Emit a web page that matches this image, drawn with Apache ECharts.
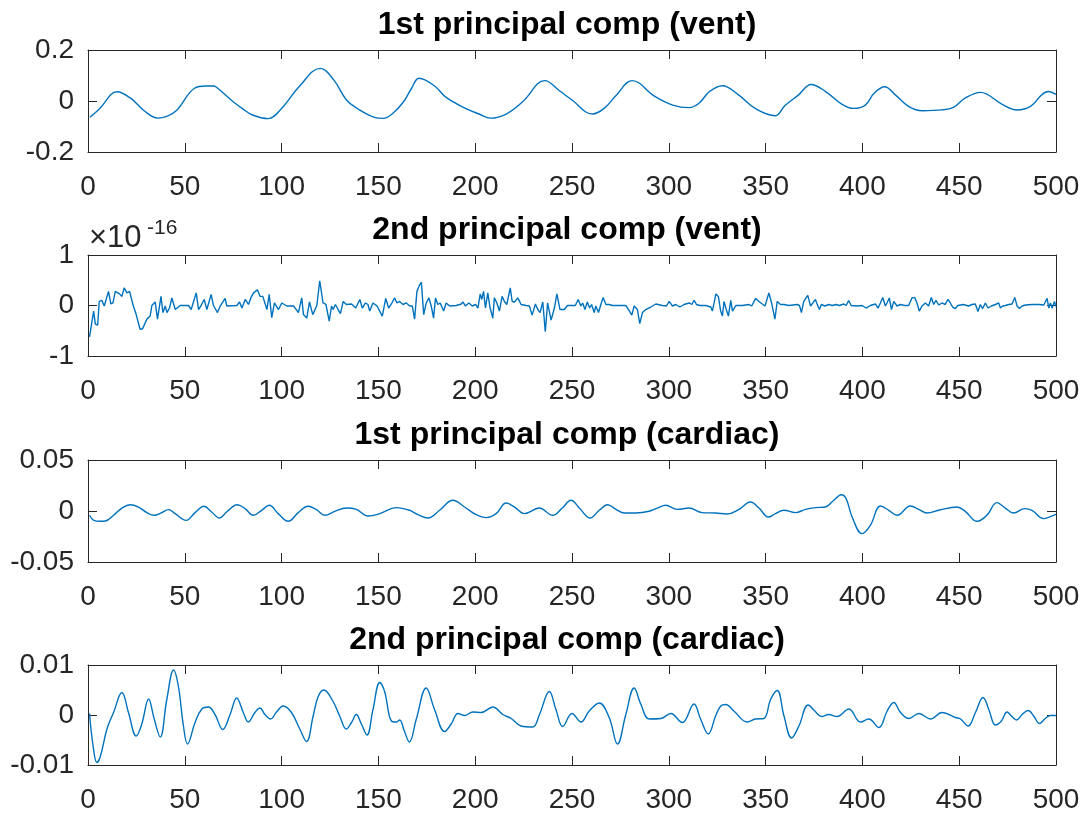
<!DOCTYPE html>
<html>
<head>
<meta charset="utf-8">
<title>Principal components</title>
<script src="https://cdn.jsdelivr.net/npm/echarts@6/dist/echarts.min.js"></script>
<style>
  html, body { margin: 0; padding: 0; background: #ffffff; }
  #chart { width: 1083px; height: 814px; }
</style>
</head>
<body>
<div id="chart"></div>
<script>
// ---- data: [sample index, value] ----
const xTicks = [0, 50, 100, 150, 200, 250, 300, 350, 400, 450, 500];

const titles = [
  '1st principal comp (vent)',
  '2nd principal comp (vent)',
  '1st principal comp (cardiac)',
  '2nd principal comp (cardiac)'
];

const yRanges = [
  [-0.2, 0.2, 0.2],
  [-1, 1, 1],          // in units of 1e-16
  [-0.05, 0.05, 0.05],
  [-0.01, 0.01, 0.01]
];

const ventPc1 = [[1,-0.064],[6,-0.03],[15,0.036],[22,0.011],[29,-0.038],[36,-0.067],[41,-0.059],[46,-0.035],
  [55,0.050],[61,0.059],[65,0.059],[67,0.05],[75,-0.003],[80,-0.031],[85,-0.055],[93,-0.069],[100,-0.029],
  [109,0.056],[120,0.128],[127,0.082],[133.5,0.004],[139,-0.029],[148,-0.064],[152.5,-0.068],[157.5,-0.048],
  [163,-0.003],[167,0.048],[171,0.089],[179,0.059],[185,0.014],[195,-0.029],[202,-0.051],[208,-0.067],[216,-0.051],
  [224.5,-0.003],[236,0.080],[243.5,0.040],[250,0.004],[260.6,-0.051],[266.6,-0.029],[273,0.024],[281,0.080],
  [293,0.017],[302,-0.016],[310.5,-0.026],[315.6,-0.009],[321,0.037],[327.6,0.060],[336,0.024],[345,-0.031],
  [355,-0.058],[360,-0.018],[367,0.024],[373.5,0.065],[381,0.037],[389.5,-0.013],[395.5,-0.029],[401.5,-0.016],
  [406,0.030],[411.5,0.056],[417,0.024],[424,-0.022],[431,-0.038],[441,-0.035],[447,-0.025],[453,0.011],
  [461,0.034],[472,-0.012],[480,-0.035],[487,-0.020],[492.6,0.024],[496,0.037],[500,0.026]];

// second vent component, values in units of 1e-16
const ventPc2 = [[0.8,-0.62],[2.9,-0.11],[3.8,-0.37],[5.0,-0.39],[5.8,0.08],[7.2,0.10],[8.4,-0.01],[10.6,0.28],
  [11.8,0.03],[12.9,0.05],[14.1,0.28],[16.3,0.23],[17.5,0.18],[18.7,0.35],[20.1,0.25],[21.5,0.28],[23.2,0.02],
  [24.9,-0.18],[26.9,-0.47],[28.2,-0.46],[30.4,-0.27],[32.1,-0.21],[33.0,0],[34.7,0.07],[35.9,-0.27],[37.7,0.18],
  [38.7,-0.14],[39.9,-0.01],[40.8,-0.14],[42.1,-0.05],[43.3,0.15],[45.1,-0.08],[47.6,0],[51.9,0],[53.3,-0.08],
  [55.9,0.25],[57.1,-0.08],[58.3,-0.01],[60.0,0.12],[61.4,-0.08],[63.6,0.22],[64.8,0],[66.9,-0.14],[68.3,-0.01],
  [70.8,0.14],[71.7,-0.01],[76.9,0],[78.3,0.07],[79.5,-0.05],[81.2,0.12],[82.9,0.02],[84.1,0.15],[85.5,0.25],
  [87.5,0.31],[88.9,0.18],[90.3,0.18],[92.4,-0.08],[93.6,0.22],[94.9,-0.24],[96.3,0.05],[98.4,-0.08],[100.1,0.05],
  [102.7,-0.01],[106.2,-0.01],[108.7,-0.14],[110.4,0.15],[111.3,-0.18],[113.0,-0.25],[114.4,0.07],[116.1,-0.18],
  [118.2,0],[119.7,0.49],[120.6,0.48],[121.4,0.05],[122.9,0.02],[124.6,-0.31],[125.8,-0.01],[126.6,-0.08],
  [127.8,0.02],[129.2,-0.08],[130.4,-0.16],[131.8,0.08],[133.5,0.02],[136.1,0.03],[138.3,-0.05],[140.4,0.12],
  [141.7,-0.05],[143.3,0.05],[144.6,0.02],[145.5,-0.11],[147.2,0.05],[149.3,-0.01],[152.0,-0.21],[153.8,0.14],
  [155.3,-0.05],[156.7,0.03],[158.4,0.15],[159.6,0.05],[161.0,0.08],[162.7,0.02],[164.4,0.05],[166.2,-0.01],
  [167.5,-0.01],[168.7,-0.27],[169.9,0.28],[171.3,0.41],[172.2,0.46],[173.4,-0.18],[174.7,0.05],[176.1,0.15],
  [177.3,-0.01],[178.5,-0.25],[179.5,0.15],[180.7,0.02],[181.9,0.05],[183.7,-0.11],[185.0,0.05],[186.8,-0.01],
  [190.2,0],[192.8,0.03],[193.6,0.07],[195.0,-0.01],[196.7,0.05],[198.5,-0.01],[200.2,0.02],[201.4,-0.05],
  [202.6,0.23],[203.4,0.12],[204.3,0.28],[205.3,-0.05],[206.5,0.25],[207.7,-0.05],[209.1,-0.25],[209.9,0.15],
  [211.2,0.05],[212.5,-0.11],[213.9,0.18],[215.1,0.08],[216.3,0.02],[218.1,0.35],[219.1,0.08],[220.3,0.07],
  [222.0,0.15],[223.7,0.02],[226.3,0],[228.0,-0.01],[229.4,-0.19],[231.1,0.03],[232.3,-0.08],[233.5,-0.14],
  [234.9,0.07],[236.2,-0.52],[237.4,0.05],[239.2,-0.29],[240.9,-0.05],[242.2,0.23],[243.8,-0.08],[246.0,-0.08],
  [247.7,0],[251.7,0],[253.2,0.12],[254.6,-0.01],[255.5,0.05],[256.7,-0.08],[257.9,0.07],[259.1,-0.05],
  [260.1,0.02],[261.5,-0.14],[262.3,-0.01],[263.7,-0.14],[264.9,0.02],[266.1,0.16],[267.5,0.02],[269.2,0.02],
  [270.9,0],[274.3,0],[277.8,0],[279.2,-0.08],[280.9,-0.19],[282.1,-0.01],[283.8,-0.08],[285.0,-0.36],
  [286.4,-0.14],[288.1,-0.08],[290.7,-0.03],[293.3,0.03],[296.7,0],[298.8,-0.01],[300.2,0.08],[301.9,-0.01],
  [303.6,0.02],[305.7,-0.03],[307.9,0.02],[310.5,0.05],[311.9,0.02],[313.1,0.10],[314.3,0.02],[316.0,0],
  [319.1,0],[321.7,-0.03],[322.5,-0.11],[323.4,0.05],[324.3,0.23],[325.6,0.18],[326.8,-0.11],[327.7,-0.21],
  [328.5,0.08],[329.7,-0.08],[330.8,-0.21],[332.0,0.10],[332.9,-0.11],[334.6,0],[338.0,0],[341.5,0.02],
  [342.8,-0.01],[344.9,0.14],[346.6,0.08],[348.3,0.03],[349.7,-0.01],[351.7,0.25],[353.1,0.05],[354.8,-0.27],
  [356.0,0.08],[357.7,0.02],[359.5,0.02],[362.0,0],[366.3,0.02],[367.5,0],[368.5,-0.14],[369.7,0.08],
  [370.6,0.10],[371.8,0.20],[373.2,-0.01],[374.4,0.05],[375.7,0.12],[376.6,0.03],[377.8,-0.08],[378.8,0.02],
  [380.6,-0.01],[382.6,0.02],[384.4,0],[386.4,0.02],[388.1,0],[390.4,0.03],[391.6,0],[392.9,0.10],[394.2,0],
  [397.2,-0.01],[399.8,0],[401.9,-0.05],[404.1,0],[406.7,0.03],[408.1,-0.05],[409.3,0.05],[410.5,0.16],
  [411.9,-0.01],[412.7,0.05],[413.9,0.15],[415.0,-0.08],[416.2,0.08],[417.9,-0.01],[419.6,0.02],[421.8,0],
  [423.9,0],[425.6,0.15],[427.0,0.16],[428.2,0.05],[429.4,-0.11],[430.8,-0.01],[432.5,0.05],[434.2,-0.01],
  [435.6,0.16],[436.8,0.02],[438.0,0.10],[439.4,0.01],[441.1,0.05],[442.8,0.02],[444.2,0.12],[445.4,0.05],
  [446.6,-0.03],[448.0,-0.06],[449.3,0],[452.2,0.02],[454.8,-0.01],[456.6,0.02],[458.3,0.03],[459.7,-0.12],
  [460.9,0.02],[462.1,-0.06],[463.5,0.05],[464.9,-0.05],[466.6,-0.01],[468.7,0.02],[470.4,0.05],[471.3,-0.05],
  [472.5,-0.01],[473.8,0],[475.6,0.02],[477.3,0.03],[478.7,0.16],[479.9,-0.01],[481.1,-0.06],[482.5,-0.01],
  [484.2,0.01],[487.7,0.02],[491.1,0.02],[493.7,0.01],[495.4,0.14],[496.3,-0.05],[497.1,0.05],[498.0,-0.05],
  [499.2,0.08],[500,-0.02]];

const cardiacPc1 = [[0.8,-0.0042],[3,-0.0092],[6.3,-0.0101],[9,-0.0098],[13.2,-0.0042],[17.5,0.0029],[21.8,0.0062],
  [26.1,0.0039],[30.4,-0.0016],[34.2,-0.0042],[38.1,-0.0016],[41.6,0.0013],[45,-0.0026],[50.7,-0.0092],
  [55.3,-0.0016],[59.9,0.0046],[63.9,-0.001],[67.9,-0.0069],[71.6,-0.001],[77.1,0.0062],[81.1,0.0023],
  [85.4,-0.0042],[89.7,0.0007],[93.6,0.0056],[98.3,-0.0026],[103.4,-0.0101],[108.6,-0.0016],[113.7,0.0046],
  [118,0.0013],[122.3,-0.0042],[127.5,-0.0003],[133.5,0.0029],[138.6,0.0016],[144.6,-0.0049],[150.7,-0.0026],
  [159.3,0.0033],[166.1,0.0007],[170.4,-0.0036],[175.6,-0.0069],[181.6,0.0007],[188.5,0.0105],[194.5,0.0039],
  [200.5,-0.0036],[205.7,-0.0065],[210.8,-0.0026],[216,0.0078],[220.3,0.0039],[225.4,-0.0026],[233.1,0.0029],
  [240,-0.0042],[245,0.003],[249.5,0.0105],[253.8,0.0029],[259.3,-0.0069],[264.1,0.0007],[268.4,0.0062],
  [272.7,0.0016],[277,-0.002],[283,-0.002],[289.8,-0.0003],[294.1,0.0029],[298.4,0.0056],[304.4,0.0016],
  [310.4,0.0029],[317.3,-0.0016],[324.2,-0.002],[330.2,-0.0029],[336.2,0.0016],[342.2,0.0088],[346.6,0.0029],
  [351.4,-0.0059],[355.1,-0.0026],[359.4,0.0007],[365.4,-0.0016],[370.6,0.0016],[375.7,0.0033],[380.9,0.0039],
  [384.7,0.0095],[389.2,0.016],[391.6,0.0121],[394.7,-0.0059],[399.8,-0.0222],[404.1,-0.0141],[409.3,0.0049],
  [413.6,0.0007],[417.9,-0.0042],[424.8,0.0049],[429.1,0.0016],[433.4,-0.002],[439.4,0.0007],[448.8,0.0039],
  [453.1,-0.0003],[459.2,-0.0101],[464.3,-0.0042],[469.5,0.0082],[473.8,0.0029],[478.1,-0.002],[483.8,0.0023],
  [487.6,0.0007],[493.6,-0.0075],[498.8,-0.0042],[500,-0.003]];

const cardiacPc2 = [[0.8,0.0003],[2.6,-0.0061],[4.6,-0.0095],[6.3,-0.0084],[9.8,-0.0028],[13.2,0.0005],[17.5,0.0045],
  [20.9,0.0005],[24.9,-0.0042],[27.8,-0.0018],[31.3,0.0032],[34.2,-0.0008],[37.3,-0.0044],[40.7,0.0031],
  [44.2,0.009],[46.7,0.0057],[49.3,-0.0022],[51.4,-0.0058],[55.3,-0.0015],[58.8,0.0012],[62.2,0.0016],
  [65.6,0.0001],[69.6,-0.0029],[73.4,0.0001],[76.8,0.0034],[80.2,0.0005],[82.8,-0.0014],[86.2,0.0005],
  [88.8,0.0014],[91.4,0.0001],[94.3,-0.0008],[97.4,0.0006],[100.8,0.0018],[105.1,0.0005],[109.4,-0.0028],
  [112.9,-0.0053],[116.3,-0.0002],[118.9,0.0037],[121.8,0.005],[126.6,0.0027],[130,-0.0002],[133.5,-0.0028],
  [136.1,-0.0015],[138.6,0.0001],[141.2,-0.0018],[144.1,-0.004],[147.2,0.0011],[150.7,0.0065],[153.2,0.0047],
  [156.7,-0.0012],[159.3,-0.0014],[161,-0.001],[163.3,-0.0031],[166,-0.0054],[169.6,-0.0008],[174.7,0.0054],
  [179,0.0011],[184.2,-0.0033],[187.6,-0.0018],[191.1,0.0003],[194.5,-0.0001],[198.8,0.0006],[203.1,0.0005],
  [209.1,0.0016],[214.3,0.0001],[218.6,-0.0007],[223.7,-0.0022],[229.7,-0.0024],[233.2,0.0001],[238.3,0.0047],
  [241.7,0.0011],[245.2,-0.0023],[250,0.0003],[254.6,-0.0014],[258.9,0.0008],[264.1,0.0024],[269.2,-0.0005],
  [273.5,-0.0058],[277.8,0.0001],[282.1,0.0054],[285.6,0.0021],[289.9,-0.0008],[295.9,-0.0007],[301,0.0003],
  [307,-0.0015],[313,0.0022],[316.4,-0.0008],[320.4,-0.0038],[324.2,-0.0002],[326.8,0.0018],[329.4,0.0021],
  [333.6,0.0008],[340.5,-0.0014],[344.8,-0.0008],[349.1,-0.0007],[352.6,0.0031],[356,0.0049],[359.5,-0.0002],
  [363.4,-0.0046],[367.2,-0.0022],[372,0.002],[375.4,0.0008],[378.9,-0.0003],[382.6,0.0001],[386.9,-0.0003],
  [393,0.0012],[399,-0.0014],[403.3,-0.0008],[408.5,-0.0025],[412.8,0.0008],[416.2,0.0025],[419.7,0.0005],
  [424,-0.0007],[429.2,0.0003],[435.2,-0.0008],[441.2,0.0005],[448.1,-0.0005],[450.7,-0.0008],[454.6,-0.0022],
  [458.4,0.0005],[462.3,0.0035],[465.3,0.0011],[468.7,-0.002],[471.8,-0.0012],[474.7,0.0006],[477,-0.0002],
  [479.6,-0.001],[482.5,0.0001],[485.6,0.0009],[488.5,-0.0002],[491.4,-0.0017],[494.5,-0.0007],[497.1,-0.0001],
  [500,-0.0001]];

// ---- layout ----
const FONT = '"Liberation Sans", Arial, Helvetica, sans-serif';
const AX = '#262626';
const LINE = '#0072BD';
const panels = [
  { top: 50,  height: 102, data: ventPc1,    smooth: 0.4 },
  { top: 255, height: 101, data: ventPc2,    smooth: false },
  { top: 460, height: 102, data: cardiacPc1, smooth: 0.4 },
  { top: 665, height: 102, data: cardiacPc2, smooth: 0.4 }
];
const LEFT = 88, RIGHT = 27;

const grid = [], xAxis = [], yAxis = [], series = [], graphic = [];
const axLine = { show: true, onZero: false, lineStyle: { color: AX, width: 1 } };
const tick = { show: true, inside: true, length: 9, lineStyle: { color: AX, width: 1 } };
const lbl = { fontSize: 28, color: AX, fontFamily: FONT };

panels.forEach((p, i) => {
  grid.push({ left: LEFT, right: RIGHT, top: p.top, height: p.height, containLabel: false });
  const [ymin, ymax, yint] = yRanges[i];
  const xBase = { gridIndex: i, type: 'value', min: xTicks[0], max: xTicks[xTicks.length - 1],
    interval: xTicks[1] - xTicks[0], splitLine: { show: false }, axisLine: axLine, axisTick: tick };
  xAxis.push(Object.assign({}, xBase, { position: 'bottom',
    axisLabel: Object.assign({ margin: 21 }, lbl) }));
  xAxis.push(Object.assign({}, xBase, { position: 'top', axisLabel: { show: false } }));
  const yBase = { gridIndex: i, type: 'value', min: ymin, max: ymax, interval: yint,
    splitLine: { show: false }, axisLine: axLine, axisTick: tick };
  yAxis.push(Object.assign({}, yBase, { position: 'left',
    axisLabel: Object.assign({ margin: 14, formatter: v => String(+v.toFixed(4)) }, lbl) }));
  yAxis.push(Object.assign({}, yBase, { position: 'right', axisLabel: { show: false } }));
  series.push({
    type: 'line', xAxisIndex: 2 * i, yAxisIndex: 2 * i, data: p.data,
    smooth: p.smooth, showSymbol: false, symbol: 'none',
    lineStyle: { color: LINE, width: 1.4 }, silent: true, animation: false
  });
  graphic.push({
    type: 'text', x: LEFT + (1083 - LEFT - RIGHT) / 2 - 5, y: p.top - 25,
    style: { text: titles[i], font: 'bold 32px ' + FONT, fill: '#000000',
      textAlign: 'center', textVerticalAlign: 'middle' }
  });
});

// exponent label for the second panel
graphic.push({ type: 'text', x: 89, y: 238,
  style: { text: '\u00d710', font: '31px ' + FONT, fill: AX, textAlign: 'left', textVerticalAlign: 'middle' } });
graphic.push({ type: 'text', x: 147, y: 228,
  style: { text: '-16', font: '21px ' + FONT, fill: AX, textAlign: 'left', textVerticalAlign: 'middle' } });

const chart = echarts.init(document.getElementById('chart'), null, { renderer: 'canvas' });
chart.setOption({
  animation: false,
  backgroundColor: '#ffffff',
  grid, xAxis, yAxis, series, graphic
});
</script>
</body>
</html>
